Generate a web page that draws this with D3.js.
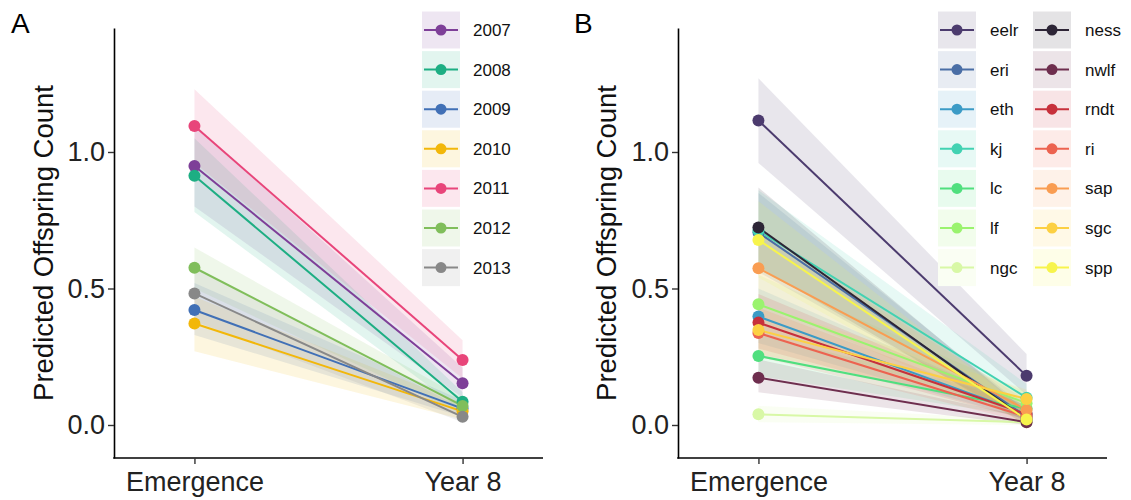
<!DOCTYPE html>
<html><head><meta charset="utf-8">
<script src="https://cdn.jsdelivr.net/npm/d3@7"></script>
<style>
body{margin:0;background:#fff;}
text{font-family:"Liberation Sans",Arial,sans-serif;}
</style></head>
<body><svg id="c" width="1131" height="500"></svg>
<script>
// ---------- data ----------
const timepoints = ["Emergence", "Year 8"];
const yTicks = [0, 0.5, 1.0];

// Panel A: years
const years = ["2007","2008","2009","2010","2011","2012","2013"];
const yearColors = ["#7E3F98","#1DAE83","#4170B6","#F2B70A","#E8457A","#80BE5B","#888888"];
const emergA = [0.949, 0.913, 0.421, 0.372, 1.095, 0.576, 0.482];
const year8A = [0.153, 0.085, 0.060, 0.050, 0.238, 0.070, 0.030];
const emergLoA = [0.80, 0.78, 0.33, 0.27, 0.96, 0.50, 0.38];
const emergHiA = [1.10, 1.05, 0.52, 0.47, 1.23, 0.65, 0.58];
const year8LoA = [0.10, 0.05, 0.03, 0.02, 0.17, 0.04, 0.01];
const year8HiA = [0.21, 0.12, 0.09, 0.08, 0.31, 0.10, 0.06];

// Panel B: sites
const sites = ["eelr","eri","eth","kj","lc","lf","ngc","ness","nwlf","rndt","ri","sap","sgc","spp"];
const siteColors = ["#4C3B6E","#4A6EA6","#3C9BC6","#42D2B2","#50DF7E","#9AF36E","#D8F8A6",
                    "#2D2536","#6E2E4E","#C7303B","#EC6350","#F99D52","#FCD043","#F7F44C"];
const emergB = [1.115, 0.705, 0.397, 0.712, 0.253, 0.442, 0.039, 0.723, 0.173, 0.375, 0.337, 0.574, 0.348, 0.678];
const year8B = [0.180, 0.030, 0.040, 0.100, 0.060, 0.080, 0.010, 0.020, 0.010, 0.040, 0.030, 0.055, 0.095, 0.020];
const emergLoB = [0.96, 0.56, 0.30, 0.57, 0.18, 0.34, 0.01, 0.58, 0.12, 0.28, 0.25, 0.45, 0.26, 0.54];
const emergHiB = [1.27, 0.85, 0.50, 0.86, 0.33, 0.55, 0.07, 0.87, 0.24, 0.48, 0.43, 0.70, 0.44, 0.82];
const year8LoB = [0.11, 0.01, 0.02, 0.06, 0.03, 0.04, 0.00, 0.00, 0.00, 0.02, 0.01, 0.03, 0.06, 0.00];
const year8HiB = [0.26, 0.06, 0.07, 0.15, 0.09, 0.12, 0.02, 0.05, 0.03, 0.07, 0.06, 0.09, 0.13, 0.05];

// ---------- drawing ----------
const svg = d3.select("#c");
const yTop = 28, yBot = 458;
const y = d3.scaleLinear().domain([-0.1209, 1.4542]).range([yBot, yTop]);

function panel(opts) {
  const {x0, x1, label, labelX, titleX, names, colors, em, y8, emLo, emHi, y8Lo, y8Hi, legend} = opts;
  const x = d3.scalePoint().domain(timepoints).range([x0, x1]).padding(0.3);
  const g = svg.append("g");
  const series = names.map((n, i) => ({
    name: n, color: colors[i],
    pts: [{t: timepoints[0], v: em[i], lo: emLo[i], hi: emHi[i]},
          {t: timepoints[1], v: y8[i], lo: y8Lo[i], hi: y8Hi[i]}]
  }));
  const area = d3.area().x(d => x(d.t)).y0(d => y(d.lo)).y1(d => y(d.hi));
  const line = d3.line().x(d => x(d.t)).y(d => y(d.v));
  g.append("g").selectAll("path").data(series).join("path")
    .attr("d", d => area(d.pts)).attr("fill", d => d.color).attr("fill-opacity", 0.13);
  g.append("g").selectAll("path").data(series).join("path")
    .attr("d", d => line(d.pts)).attr("fill", "none").attr("stroke", d => d.color).attr("stroke-width", 2);
  g.append("g").selectAll("g").data(series).join("g").each(function(d) {
    d3.select(this).selectAll("circle").data(d.pts).join("circle")
      .attr("cx", p => x(p.t)).attr("cy", p => y(p.v)).attr("r", 6).attr("fill", d.color);
  });

  // axes
  const ay = g.append("g").attr("transform", `translate(${x0},0)`)
    .call(d3.axisLeft(y).tickValues(yTicks).tickFormat(d3.format(".1f")).tickSize(6).tickSizeOuter(0).tickPadding(3));
  const ax = g.append("g").attr("transform", `translate(0,${yBot})`)
    .call(d3.axisBottom(x).tickSize(6).tickSizeOuter(0).tickPadding(8));
  [ay, ax].forEach(a => {
    a.select(".domain").attr("stroke", "#000").attr("stroke-width", 1.6);
    a.selectAll(".tick line").attr("stroke", "#333").attr("stroke-width", 1.4);
    a.selectAll(".tick text").attr("fill", "#222").style("font-size", "27px")
      .style("font-family", "'Liberation Sans',Arial,sans-serif");
  });
  ax.select(".domain").attr("d", `M${x0 - 0.8},0H${x1}`);

  g.append("text").attr("transform", `translate(${titleX},243) rotate(-90)`)
    .attr("text-anchor", "middle").attr("fill", "#111").style("font-size", "27.5px")
    .text("Predicted Offspring Count");
  g.append("text").attr("x", labelX).attr("y", 33).attr("fill", "#000").style("font-size", "28px").text(label);

  // legend
  const rowH = 39.6, boxW = 38, boxH = 37;
  const lg = g.append("g");
  series.forEach((s, i) => {
    const col = Math.floor(i / 7), row = i % 7;
    const bx = legend.x[col], cy = 30 + row * rowH;
    const k = lg.append("g");
    k.append("rect").attr("x", bx).attr("y", cy - boxH / 2).attr("width", boxW).attr("height", boxH).attr("fill", "#fff");
    k.append("rect").attr("x", bx).attr("y", cy - boxH / 2).attr("width", boxW).attr("height", boxH)
      .attr("fill", s.color).attr("fill-opacity", 0.13);
    k.append("line").attr("x1", bx + 2).attr("x2", bx + boxW - 2).attr("y1", cy).attr("y2", cy)
      .attr("stroke", s.color).attr("stroke-width", 2);
    k.append("circle").attr("cx", bx + boxW / 2).attr("cy", cy).attr("r", 5.5).attr("fill", s.color);
    k.append("text").attr("x", bx + legend.textDx).attr("y", cy).attr("dy", "0.35em")
      .attr("fill", "#111").style("font-size", "17px").text(s.name);
  });
}

panel({x0: 114, x1: 543, label: "A", labelX: 11, titleX: 53,
  names: years, colors: yearColors, em: emergA, y8: year8A, emLo: emergLoA, emHi: emergHiA, y8Lo: year8LoA, y8Hi: year8HiA,
  legend: {x: [422], textDx: 51}});
panel({x0: 678, x1: 1107, label: "B", labelX: 574, titleX: 616,
  names: sites, colors: siteColors, em: emergB, y8: year8B, emLo: emergLoB, emHi: emergHiB, y8Lo: year8LoB, y8Hi: year8HiB,
  legend: {x: [938, 1033], textDx: 52}});
</script></body></html>
